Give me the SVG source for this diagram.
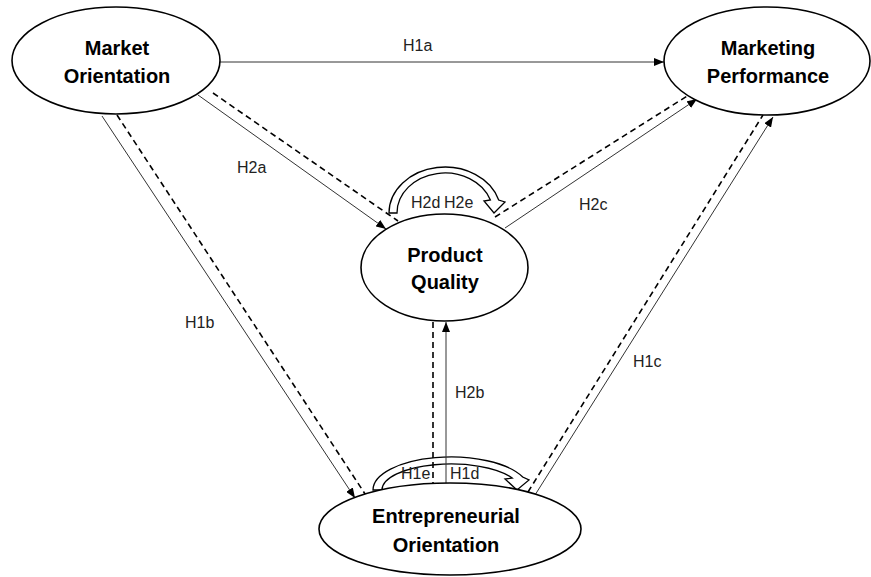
<svg xmlns="http://www.w3.org/2000/svg" width="871" height="577" viewBox="0 0 871 577">
<defs>
<marker id="ah" markerUnits="userSpaceOnUse" markerWidth="10" markerHeight="8" refX="10" refY="4" orient="auto">
<path d="M0,0 L10,4 L0,8 z" fill="#000"/>
</marker>
<style>
.node{fill:#fff;stroke:#000;stroke-width:1.6}
.nt{font-family:"Liberation Sans",Arial,sans-serif;font-weight:bold;font-size:20px;fill:#000;text-anchor:middle}
.lb{font-family:"Liberation Sans",Arial,sans-serif;font-size:16px;fill:#222}
.sol{stroke:#333;stroke-width:1;fill:none}
.dsh{stroke:#000;stroke-width:1.6;stroke-dasharray:6 4;fill:none}
.carr{fill:none;stroke:#000;stroke-width:1.3;stroke-linejoin:miter}
</style>
</defs>
<rect width="871" height="577" fill="#fff"/>
<g id="curved-arrows">
<path class="carr" d="M389,213 A56,46 0 0 1 498.7,200 L505,202 L494,213 L484,201 L490.4,200 A48,40 0 0 0 397,213 Z"/>
<path class="carr" d="M373,490 A78,33 0 0 1 522.7,477 L529,480 L517,490 L505,479 L512.2,478 A69,26 0 0 0 382,490 Z"/>
</g>
<g id="connectors">
<line class="sol" x1="220" y1="62" x2="664" y2="62" marker-end="url(#ah)"/>
<line class="sol" x1="198" y1="95" x2="386" y2="229" marker-end="url(#ah)"/>
<line class="dsh" x1="213" y1="93" x2="398" y2="221"/>
<line class="sol" x1="102" y1="116" x2="355" y2="498" marker-end="url(#ah)"/>
<line class="dsh" x1="117" y1="115" x2="367" y2="497"/>
<line class="sol" x1="505" y1="228" x2="697" y2="99" marker-end="url(#ah)"/>
<line class="dsh" x1="495" y1="217" x2="692" y2="93"/>
<line class="sol" x1="535" y1="495" x2="773" y2="117" marker-end="url(#ah)"/>
<line class="dsh" x1="528" y1="492" x2="763" y2="115"/>
<line class="sol" x1="446" y1="484" x2="446" y2="322" marker-end="url(#ah)"/>
<line class="dsh" x1="433" y1="322" x2="433" y2="484"/>
</g>
<g id="labels">
<text class="lb" x="403" y="51">H1a</text>
<text class="lb" x="237" y="173">H2a</text>
<text class="lb" x="185" y="328">H1b</text>
<text class="lb" x="579" y="210">H2c</text>
<text class="lb" x="633" y="367">H1c</text>
<text class="lb" x="455" y="398">H2b</text>
<text class="lb" x="411" y="208">H2d</text>
<text class="lb" x="444" y="208">H2e</text>
<text class="lb" x="401" y="479">H1e</text>
<text class="lb" x="450" y="479">H1d</text>
</g>
<g id="market-orientation">
<ellipse class="node" cx="116" cy="60.5" rx="104" ry="53.5"/>
<text class="nt" x="117" y="55">Market</text>
<text class="nt" x="117" y="83">Orientation</text>
</g>
<g id="marketing-performance">
<ellipse class="node" cx="767" cy="61" rx="103" ry="54"/>
<text class="nt" x="768" y="55">Marketing</text>
<text class="nt" x="768" y="83">Performance</text>
</g>
<g id="product-quality">
<ellipse class="node" cx="444.5" cy="267.5" rx="83.5" ry="53.5"/>
<text class="nt" x="445" y="262">Product</text>
<text class="nt" x="445" y="289">Quality</text>
</g>
<g id="entrepreneurial-orientation">
<ellipse class="node" cx="450" cy="529" rx="131" ry="46"/>
<text class="nt" x="446" y="523">Entrepreneurial</text>
<text class="nt" x="446" y="552">Orientation</text>
</g>
</svg>
